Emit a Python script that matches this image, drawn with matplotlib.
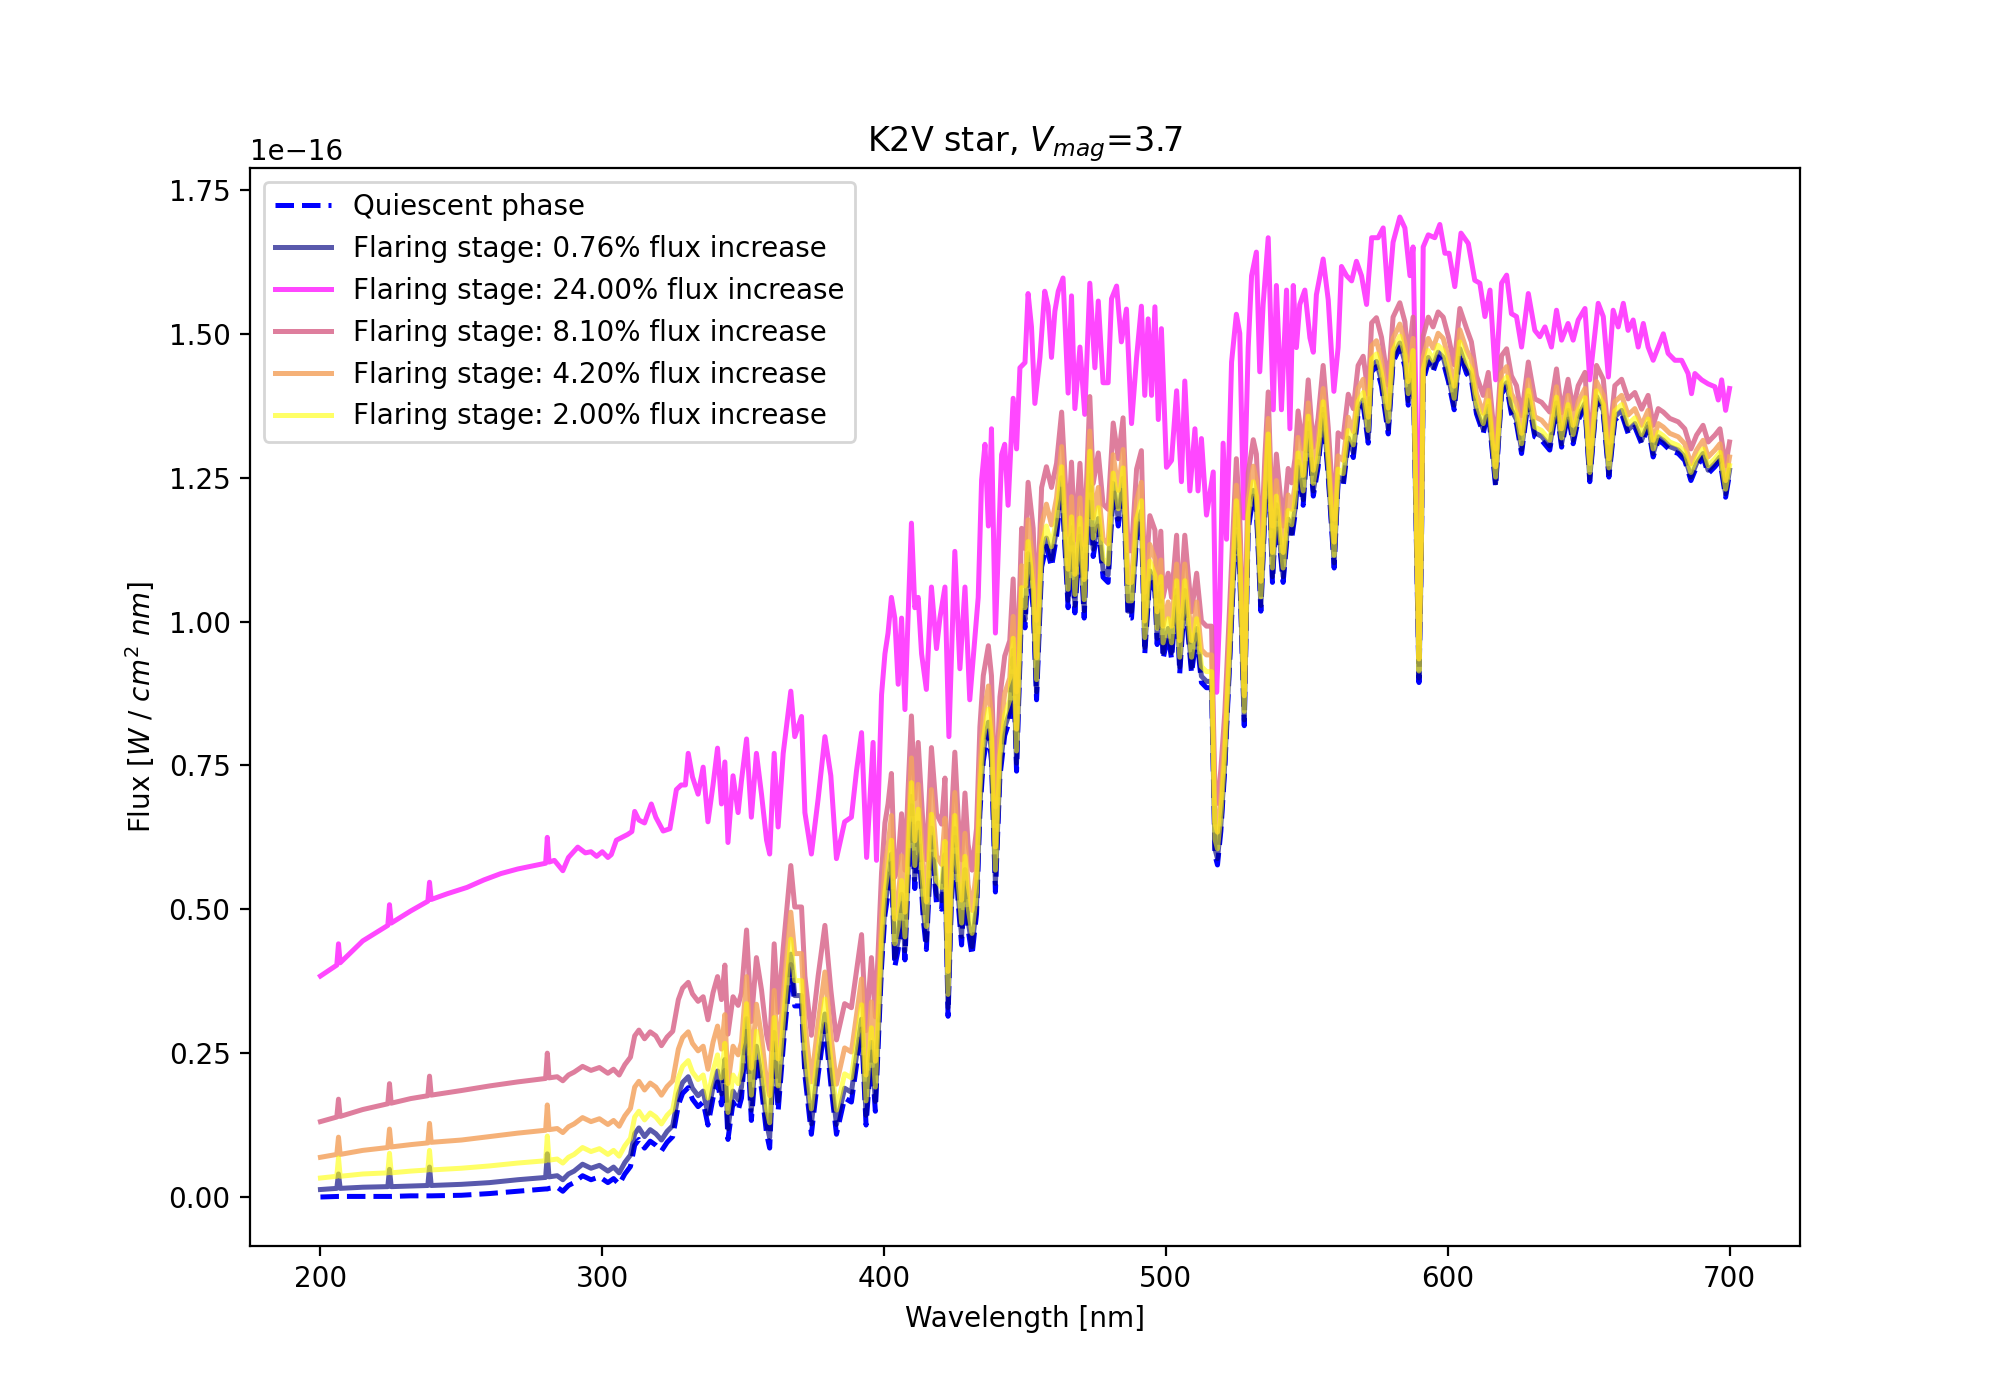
import numpy as np
import matplotlib
matplotlib.use("Agg")
import matplotlib.pyplot as plt

# flux values in units of 1e-16 W / cm^2 nm
SCALE = 1e-16

# wavelength grid shared by the quiescent spectrum and the four weaker flares
wl_q = [200, 205.8, 206.4, 207.0, 215, 223.9, 224.5, 225.1, 232, 238.1, 238.7, 239.3, 250, 260, 270, 279.9, 280.5, 281.1, 284, 286, 288, 290,
        293, 296, 299, 302, 304, 306, 308, 310, 311.5, 313, 315, 317, 319, 321, 323, 325, 327, 328.5, 330.5, 332, 334, 335.8, 337.5, 339.3,
        340.9, 342.3, 343.5, 344.6, 346.4, 348.2, 349.4, 351.2, 352.9, 354.7, 356.5, 358.3, 359.4, 361, 362.4, 364.2, 366.9, 368.3, 370.7, 371.9,
        374.2, 376.6, 379, 381.1, 383.1, 386, 388.4, 390.2, 392, 393.6, 395.5, 396.9, 399.1, 400.3,
        401.4, 402.6, 403.8, 405, 406.2, 407.4, 408.5, 409.7, 410.9, 412.1, 413.9, 415, 416.8, 418.6, 420.4, 421.6,
        422.7, 423.8, 425.1, 426.3, 427.5, 428.7, 429.8, 431.2, 432.8, 434, 435.2, 437, 438.1, 439.5, 441.1, 442.8,
        444.6, 445.8, 447, 448.8, 450, 451.1, 452.9, 454.1, 455.9, 457.6, 459.4, 461.2, 463, 465.3, 466.5, 467.7,
        469.5, 471, 473, 474.2, 476, 477.7, 479.5, 481.3, 483.1, 484.8, 486.6, 487.8, 489.6, 491.3,
        492.5, 494.3, 496.1, 496.9, 498.2, 499, 500.8, 502, 503.8, 504.9, 506.7, 509.1, 510.9, 512.6, 514.4, 516.2,
        517.4, 518.3, 519.5, 520.9, 523.3, 525, 526.2, 527.8, 529.2, 531, 532.1, 533.7, 535.1, 536.3, 537.8, 539.2,
        541.6, 543.4, 544.6, 545.8, 546.9, 548.7, 550.5, 552.3, 554, 555.8, 557.6, 559.7, 561.1, 562.9, 564.7, 566.5,
        568.2, 570, 571.8, 573, 574.7, 576.5, 578.9, 580.6, 583, 584.8, 586, 587.7, 589, 589.8, 590.6, 591.3,
        593.1, 594.8, 596.6, 598.4, 600.2, 602.3, 604.3, 606.7,
        608.4, 610.2, 612.6, 614.4, 617, 619.1, 620.9, 622.6, 624.4, 626.2, 628.6, 630.9, 633.3, 636.2, 638.6, 640.4,
        642.7, 644.5, 646.3, 648.7, 650.4, 652.8, 655.2, 657.2, 659.3, 661.7, 664, 666.4, 668.8, 671.1, 672.9, 674.7,
        676.5, 678.8, 681.8, 684.1, 686.3, 688.3, 690.6, 692.4, 694.8, 696.6, 698.6, 700]

flux_q = [0.000, 0.001, 0.001, 0.001, 0.001, 0.001, 0.001, 0.001, 0.002, 0.002, 0.002, 0.002, 0.003, 0.006, 0.010, 0.014, 0.014, 0.015, 0.017, 0.010, 0.020, 0.025,
          0.037, 0.030, 0.035, 0.025, 0.032, 0.022, 0.040, 0.053, 0.090, 0.100, 0.085, 0.097, 0.090, 0.080, 0.095, 0.105, 0.160, 0.180, 0.190, 0.170, 0.157, 0.165, 0.125, 0.172,
          0.200, 0.160, 0.220, 0.100, 0.165, 0.150, 0.172, 0.292, 0.133, 0.244, 0.188, 0.110, 0.085, 0.268, 0.149, 0.260, 0.404, 0.332, 0.332, 0.212,
          0.109, 0.212, 0.300, 0.196, 0.109, 0.172, 0.165, 0.228, 0.292, 0.125, 0.252, 0.149, 0.400, 0.490,
          0.527, 0.580, 0.400, 0.430, 0.510, 0.412, 0.550, 0.680, 0.536, 0.634, 0.483, 0.430, 0.625, 0.510, 0.500, 0.580,
          0.314, 0.500, 0.625, 0.510, 0.438, 0.554, 0.465, 0.420, 0.492, 0.669, 0.758, 0.810, 0.758, 0.530, 0.731, 0.802,
          0.829, 0.936, 0.740, 1.024, 0.989, 1.104, 1.024, 0.864, 1.095, 1.131, 1.095, 1.148, 1.237, 1.024, 1.150, 1.015,
          1.148, 1.006, 1.264, 1.113, 1.166, 1.077, 1.068, 1.228, 1.166, 1.237, 1.006, 1.006, 1.148, 1.180,
          0.944, 1.077, 1.052, 0.960, 1.050, 0.935, 0.977, 0.935, 1.043, 0.910, 1.043, 0.910, 0.977, 0.894, 0.885, 0.885,
          0.594, 0.577, 0.636, 0.744, 1.002, 1.185, 1.085, 0.819, 1.160, 1.218, 1.193, 1.018, 1.185, 1.301, 1.068, 1.193,
          1.068, 1.168, 1.143, 1.185, 1.268, 1.202, 1.335, 1.218, 1.268, 1.360, 1.252, 1.093, 1.243, 1.235, 1.310, 1.285,
          1.360, 1.376, 1.310, 1.434, 1.443, 1.409, 1.326, 1.451, 1.476, 1.443, 1.376, 1.451, 1.100, 0.894, 1.100, 1.418,
          1.451, 1.434, 1.460, 1.451, 1.418, 1.368, 1.466, 1.431,
          1.420, 1.361, 1.327, 1.367, 1.234, 1.396, 1.408, 1.361, 1.344, 1.292, 1.385, 1.321, 1.315, 1.298, 1.373, 1.303,
          1.361, 1.309, 1.350, 1.373, 1.243, 1.385, 1.361, 1.251, 1.350, 1.361, 1.327, 1.338, 1.309, 1.338, 1.286, 1.315,
          1.309, 1.298, 1.292, 1.280, 1.245, 1.269, 1.286, 1.257, 1.269, 1.280, 1.216, 1.257]

flux_076 = [0.013, 0.015, 0.040, 0.015, 0.017, 0.018, 0.048, 0.018, 0.019, 0.020, 0.052, 0.020, 0.022, 0.025, 0.030, 0.034, 0.075, 0.035, 0.037, 0.030, 0.040, 0.045,
            0.057, 0.050, 0.055, 0.045, 0.052, 0.042, 0.060, 0.073, 0.110, 0.120, 0.105, 0.117, 0.110, 0.099, 0.114, 0.124, 0.179, 0.199, 0.209, 0.189, 0.176, 0.184, 0.144, 0.191,
            0.219, 0.179, 0.239, 0.119, 0.184, 0.169, 0.191, 0.310, 0.151, 0.262, 0.206, 0.128, 0.103, 0.286, 0.167, 0.278, 0.422, 0.350, 0.350, 0.230,
            0.127, 0.230, 0.318, 0.213, 0.126, 0.189, 0.182, 0.245, 0.309, 0.142, 0.269, 0.166, 0.417, 0.506,
            0.543, 0.596, 0.416, 0.446, 0.526, 0.428, 0.566, 0.696, 0.552, 0.650, 0.499, 0.446, 0.641, 0.526, 0.515, 0.595,
            0.329, 0.515, 0.640, 0.525, 0.453, 0.569, 0.480, 0.435, 0.507, 0.684, 0.773, 0.825, 0.773, 0.545, 0.745, 0.816,
            0.843, 0.950, 0.754, 1.038, 1.003, 1.118, 1.038, 0.878, 1.109, 1.145, 1.109, 1.161, 1.250, 1.037, 1.163, 1.028,
            1.161, 1.019, 1.277, 1.126, 1.179, 1.090, 1.081, 1.240, 1.178, 1.249, 1.018, 1.018, 1.160, 1.192,
            0.955, 1.088, 1.063, 0.971, 1.061, 0.946, 0.988, 0.946, 1.054, 0.921, 1.054, 0.921, 0.988, 0.905, 0.896, 0.896,
            0.605, 0.588, 0.647, 0.754, 1.012, 1.195, 1.095, 0.829, 1.170, 1.228, 1.203, 1.028, 1.195, 1.311, 1.078, 1.203,
            1.078, 1.178, 1.153, 1.195, 1.278, 1.212, 1.344, 1.227, 1.277, 1.369, 1.261, 1.102, 1.252, 1.244, 1.319, 1.294,
            1.369, 1.385, 1.319, 1.443, 1.452, 1.418, 1.335, 1.459, 1.484, 1.451, 1.384, 1.459, 1.108, 0.902, 1.108, 1.426,
            1.459, 1.442, 1.468, 1.459, 1.426, 1.376, 1.474, 1.439,
            1.427, 1.368, 1.334, 1.374, 1.241, 1.403, 1.415, 1.368, 1.351, 1.299, 1.392, 1.328, 1.322, 1.305, 1.380, 1.309,
            1.367, 1.315, 1.356, 1.379, 1.249, 1.391, 1.367, 1.257, 1.356, 1.367, 1.333, 1.344, 1.315, 1.344, 1.292, 1.321,
            1.315, 1.304, 1.298, 1.286, 1.251, 1.275, 1.292, 1.263, 1.275, 1.286, 1.222, 1.263]

flux_2 = [0.033, 0.036, 0.068, 0.036, 0.040, 0.042, 0.076, 0.042, 0.045, 0.047, 0.081, 0.047, 0.050, 0.054, 0.059, 0.063, 0.106, 0.064, 0.066, 0.059, 0.069, 0.074,
          0.086, 0.079, 0.084, 0.074, 0.081, 0.071, 0.089, 0.102, 0.139, 0.149, 0.134, 0.146, 0.139, 0.127, 0.142, 0.152, 0.207, 0.227, 0.237, 0.217, 0.204, 0.212, 0.172, 0.219,
          0.247, 0.207, 0.267, 0.147, 0.212, 0.197, 0.219, 0.336, 0.177, 0.288, 0.232, 0.154, 0.129, 0.312, 0.193, 0.304, 0.448, 0.376, 0.376, 0.256,
          0.153, 0.256, 0.344, 0.238, 0.151, 0.214, 0.207, 0.270, 0.334, 0.167, 0.294, 0.191, 0.442, 0.531,
          0.567, 0.620, 0.440, 0.470, 0.550, 0.452, 0.590, 0.720, 0.576, 0.674, 0.523, 0.470, 0.665, 0.550, 0.538, 0.618,
          0.352, 0.538, 0.663, 0.548, 0.476, 0.592, 0.503, 0.458, 0.530, 0.707, 0.796, 0.848, 0.796, 0.568, 0.766, 0.837,
          0.864, 0.971, 0.775, 1.059, 1.024, 1.139, 1.059, 0.899, 1.130, 1.166, 1.130, 1.180, 1.269, 1.056, 1.182, 1.047,
          1.180, 1.038, 1.296, 1.145, 1.198, 1.109, 1.100, 1.258, 1.196, 1.267, 1.036, 1.036, 1.178, 1.210,
          0.972, 1.105, 1.080, 0.988, 1.078, 0.963, 1.005, 0.963, 1.071, 0.938, 1.071, 0.938, 1.005, 0.922, 0.913, 0.913,
          0.622, 0.605, 0.664, 0.769, 1.027, 1.210, 1.110, 0.844, 1.185, 1.243, 1.218, 1.043, 1.210, 1.326, 1.093, 1.218,
          1.093, 1.193, 1.168, 1.210, 1.293, 1.227, 1.357, 1.240, 1.290, 1.382, 1.274, 1.115, 1.265, 1.257, 1.332, 1.307,
          1.382, 1.398, 1.332, 1.456, 1.465, 1.431, 1.348, 1.471, 1.496, 1.463, 1.396, 1.471, 1.120, 0.914, 1.120, 1.438,
          1.471, 1.454, 1.480, 1.471, 1.438, 1.388, 1.486, 1.451,
          1.437, 1.378, 1.344, 1.384, 1.251, 1.413, 1.425, 1.378, 1.361, 1.309, 1.402, 1.338, 1.332, 1.315, 1.390, 1.319,
          1.377, 1.325, 1.366, 1.389, 1.259, 1.401, 1.377, 1.267, 1.366, 1.377, 1.343, 1.354, 1.325, 1.352, 1.300, 1.329,
          1.323, 1.312, 1.306, 1.294, 1.259, 1.283, 1.300, 1.271, 1.283, 1.294, 1.230, 1.271]

flux_42 = [0.069, 0.074, 0.104, 0.074, 0.081, 0.086, 0.118, 0.087, 0.091, 0.094, 0.128, 0.095, 0.099, 0.105, 0.111, 0.116, 0.160, 0.117, 0.119, 0.112, 0.122, 0.127,
           0.138, 0.131, 0.136, 0.126, 0.133, 0.123, 0.141, 0.154, 0.191, 0.201, 0.186, 0.198, 0.191, 0.177, 0.192, 0.202, 0.257, 0.277, 0.287, 0.267, 0.254, 0.262, 0.222, 0.269,
           0.297, 0.257, 0.317, 0.197, 0.262, 0.247, 0.269, 0.383, 0.224, 0.335, 0.279, 0.201, 0.176, 0.359, 0.240, 0.351, 0.495, 0.423, 0.423, 0.303,
           0.200, 0.303, 0.391, 0.283, 0.196, 0.259, 0.252, 0.315, 0.379, 0.212, 0.339, 0.236, 0.487, 0.575,
           0.610, 0.663, 0.483, 0.513, 0.593, 0.495, 0.633, 0.763, 0.619, 0.717, 0.566, 0.513, 0.708, 0.593, 0.578, 0.658,
           0.392, 0.578, 0.703, 0.588, 0.516, 0.632, 0.543, 0.498, 0.570, 0.747, 0.836, 0.888, 0.836, 0.608, 0.804, 0.875,
           0.902, 1.009, 0.813, 1.097, 1.062, 1.177, 1.097, 0.937, 1.168, 1.204, 1.168, 1.215, 1.304, 1.091, 1.217, 1.082,
           1.215, 1.073, 1.331, 1.180, 1.233, 1.144, 1.135, 1.290, 1.228, 1.299, 1.068, 1.068, 1.210, 1.242,
           1.001, 1.134, 1.109, 1.017, 1.107, 0.992, 1.034, 0.992, 1.100, 0.967, 1.100, 0.967, 1.034, 0.951, 0.942, 0.942,
           0.651, 0.634, 0.693, 0.796, 1.054, 1.237, 1.137, 0.871, 1.212, 1.270, 1.245, 1.070, 1.237, 1.353, 1.120, 1.245,
           1.120, 1.220, 1.195, 1.237, 1.320, 1.254, 1.380, 1.263, 1.313, 1.405, 1.297, 1.138, 1.288, 1.280, 1.355, 1.330,
           1.405, 1.421, 1.355, 1.479, 1.488, 1.454, 1.371, 1.492, 1.517, 1.484, 1.417, 1.492, 1.141, 0.935, 1.141, 1.459,
           1.492, 1.475, 1.501, 1.492, 1.459, 1.409, 1.507, 1.472,
           1.455, 1.396, 1.362, 1.402, 1.269, 1.431, 1.443, 1.396, 1.379, 1.327, 1.420, 1.356, 1.350, 1.333, 1.408, 1.335,
           1.393, 1.341, 1.382, 1.405, 1.275, 1.417, 1.393, 1.283, 1.382, 1.393, 1.359, 1.370, 1.341, 1.367, 1.315, 1.344,
           1.338, 1.327, 1.321, 1.309, 1.274, 1.298, 1.315, 1.286, 1.298, 1.309, 1.245, 1.286]

flux_81 = [0.131, 0.139, 0.170, 0.140, 0.152, 0.162, 0.197, 0.163, 0.171, 0.176, 0.210, 0.177, 0.185, 0.193, 0.200, 0.206, 0.250, 0.207, 0.209, 0.202, 0.212, 0.217,
           0.227, 0.220, 0.225, 0.215, 0.222, 0.212, 0.230, 0.243, 0.280, 0.290, 0.275, 0.287, 0.280, 0.263, 0.278, 0.288, 0.343, 0.363, 0.373, 0.353, 0.340, 0.348, 0.308, 0.355,
           0.383, 0.343, 0.403, 0.283, 0.348, 0.333, 0.355, 0.464, 0.305, 0.416, 0.360, 0.282, 0.257, 0.440, 0.321, 0.432, 0.576, 0.504, 0.504, 0.384,
           0.281, 0.384, 0.472, 0.360, 0.273, 0.336, 0.329, 0.392, 0.456, 0.289, 0.416, 0.313, 0.564, 0.650,
           0.683, 0.736, 0.556, 0.586, 0.666, 0.568, 0.706, 0.836, 0.692, 0.790, 0.639, 0.586, 0.781, 0.666, 0.648, 0.728,
           0.462, 0.648, 0.773, 0.658, 0.586, 0.702, 0.613, 0.568, 0.640, 0.817, 0.906, 0.958, 0.906, 0.678, 0.869, 0.940,
           0.967, 1.074, 0.878, 1.162, 1.127, 1.242, 1.162, 1.002, 1.233, 1.269, 1.233, 1.275, 1.364, 1.151, 1.277, 1.142,
           1.275, 1.133, 1.391, 1.240, 1.293, 1.204, 1.195, 1.345, 1.283, 1.354, 1.123, 1.123, 1.265, 1.297,
           1.051, 1.184, 1.159, 1.067, 1.157, 1.042, 1.084, 1.042, 1.150, 1.017, 1.150, 1.017, 1.084, 1.001, 0.992, 0.992,
           0.701, 0.684, 0.743, 0.842, 1.100, 1.283, 1.183, 0.917, 1.258, 1.316, 1.291, 1.116, 1.283, 1.399, 1.166, 1.291,
           1.166, 1.266, 1.241, 1.283, 1.366, 1.300, 1.420, 1.303, 1.353, 1.445, 1.337, 1.178, 1.328, 1.320, 1.395, 1.370,
           1.445, 1.461, 1.395, 1.519, 1.528, 1.494, 1.411, 1.529, 1.554, 1.521, 1.454, 1.529, 1.178, 0.972, 1.178, 1.496,
           1.529, 1.512, 1.538, 1.529, 1.496, 1.446, 1.544, 1.509,
           1.486, 1.427, 1.393, 1.433, 1.300, 1.462, 1.474, 1.427, 1.410, 1.358, 1.451, 1.387, 1.381, 1.364, 1.439, 1.363,
           1.421, 1.369, 1.410, 1.433, 1.303, 1.445, 1.421, 1.311, 1.410, 1.421, 1.387, 1.398, 1.369, 1.393, 1.341, 1.370,
           1.364, 1.353, 1.347, 1.335, 1.300, 1.324, 1.341, 1.312, 1.324, 1.335, 1.271, 1.312]

# the strongest flare was read on its own wavelength grid
wl_24 = [200, 205.8, 206.4, 207.0, 215, 223.9, 224.5, 225.1, 232, 238.1,
         238.7, 239.3, 245, 252, 258, 264, 270, 276, 279.9, 280.5, 281.1, 283, 286,
         288, 291.3, 294, 296, 298, 300, 302, 303.2, 305, 307,
         309, 310.5, 311.5, 313, 315, 317.4, 319, 321.6, 324, 326.3,
         328, 329.5, 330.5, 332, 334, 335.8, 337.5, 339.3, 340.9, 342.3,
         343.5, 344.6, 346.4, 348.2, 349.4, 351.2, 352.9, 354.7, 356.5, 358.3,
         359.4, 361, 362.4, 364.2, 366.9, 368.3, 370.7, 371.9, 374.2, 376.6,
         379, 381.1, 383.1, 386, 388.4, 390.2, 392, 393.8, 396.1, 397.3,
         399.1, 400.3, 401.4, 402.6, 403.8, 405, 406.2, 407.4, 408.5, 409.7,
         410.9, 412.1, 413.3, 415, 416.8, 418.6, 419.8, 421.6, 423, 425.1,
         426.9, 428.7, 430.4, 432.2, 433.4, 434.6, 435.8, 437, 438.1, 439.5,
         441.7, 442.8, 444, 445.8, 447, 448.2, 450, 451.1, 452.3, 453.5,
         455.3, 457, 458.2, 459.4, 460.6, 461.8, 463.5, 465.3, 466.5, 467.7,
         469.5, 471.2, 473, 474.8, 476, 477.7, 479.5, 480.7, 482.5, 484.2,
         486, 487.8, 489.6, 491.3, 492.5, 493.7, 494.9, 496.1, 497.3, 498.4,
         500.2, 502, 503.8, 505.5, 506.7, 508.5, 510.3, 511.4, 512.6, 514.4,
         516.8, 518, 519.1, 520.3, 521.5, 523.3, 525, 526.2, 527.6, 529.2,
         530.4, 532.1, 533.3, 534.5, 536.3, 538.1, 539.2, 541, 542.8, 544,
         545.2, 546.3, 547.5, 549.3, 551.1, 552.3, 553.4, 555.8, 557.6, 559.6,
         561.1, 562.3, 564.1, 565.9, 567.6, 569.4, 571.2, 573, 575.3, 577.1,
         578.9, 580.6, 583, 584.8, 586.6, 587.7, 589.0, 589.8, 590.6, 591.3, 593.1, 595.4,
         597.2, 599, 600.5, 602.5, 604.7, 607.3, 609.6, 611.4, 613.2, 615,
         617, 619.1, 620.9, 622.6, 624.4, 626.2, 628.6, 630.9, 632.7, 634.5,
         636.8, 638.6, 640.4, 642.7, 644.5, 646.3, 648.7, 650.4, 653.4, 655.2,
         657, 658.7, 660.5, 662.3, 664, 665.8, 667.6, 669.4, 671.1, 672.9,
         674.7, 676.5, 678.2, 680.6, 683, 685.3, 686.5, 687.7, 690.1, 692.4,
         694.8, 696, 697.2, 698.6, 700]

flux_24 = [0.384, 0.403, 0.440, 0.407, 0.445, 0.472, 0.508, 0.476, 0.497, 0.514,
           0.547, 0.517, 0.527, 0.538, 0.551, 0.562, 0.570, 0.576, 0.580, 0.625, 0.582, 0.585, 0.567,
           0.590, 0.608, 0.598, 0.600, 0.592, 0.600, 0.590, 0.595, 0.620, 0.625,
           0.630, 0.635, 0.670, 0.655, 0.650, 0.683, 0.660, 0.636, 0.640, 0.708,
           0.716, 0.716, 0.771, 0.730, 0.700, 0.747, 0.652, 0.716, 0.780, 0.683,
           0.756, 0.616, 0.732, 0.668, 0.724, 0.796, 0.660, 0.771, 0.700, 0.620,
           0.596, 0.771, 0.643, 0.771, 0.879, 0.800, 0.835, 0.668, 0.596, 0.692,
           0.800, 0.732, 0.588, 0.652, 0.660, 0.740, 0.807, 0.590, 0.790, 0.585,
           0.873, 0.944, 0.980, 1.042, 1.006, 0.891, 1.006, 0.847, 1.006, 1.171,
           1.024, 1.042, 0.944, 0.882, 1.060, 0.953, 1.006, 1.060, 0.800, 1.122,
           0.918, 1.060, 0.864, 0.970, 1.042, 1.246, 1.308, 1.166, 1.335, 0.980,
           1.290, 1.308, 1.202, 1.388, 1.300, 1.441, 1.450, 1.570, 1.512, 1.379,
           1.459, 1.574, 1.548, 1.459, 1.539, 1.574, 1.597, 1.397, 1.566, 1.370,
           1.477, 1.360, 1.588, 1.441, 1.557, 1.415, 1.415, 1.561, 1.583, 1.486,
           1.543, 1.344, 1.459, 1.548, 1.393, 1.526, 1.393, 1.547, 1.351, 1.509,
           1.268, 1.280, 1.401, 1.243, 1.418, 1.227, 1.335, 1.227, 1.318, 1.185,
           1.260, 0.877, 1.018, 1.310, 1.143, 1.451, 1.534, 1.501, 1.180, 1.476,
           1.601, 1.642, 1.434, 1.551, 1.667, 1.368, 1.584, 1.368, 1.576, 1.335,
           1.584, 1.476, 1.551, 1.576, 1.493, 1.468, 1.568, 1.630, 1.559, 1.400,
           1.476, 1.617, 1.601, 1.592, 1.626, 1.601, 1.551, 1.667, 1.667, 1.684,
           1.559, 1.659, 1.703, 1.684, 1.601, 1.651, 1.300, 0.980, 1.300, 1.651, 1.672, 1.667,
           1.690, 1.640, 1.640, 1.582, 1.675, 1.657, 1.593, 1.588, 1.530, 1.576,
           1.420, 1.588, 1.602, 1.535, 1.530, 1.477, 1.570, 1.506, 1.495, 1.512,
           1.477, 1.541, 1.489, 1.518, 1.489, 1.524, 1.544, 1.420, 1.553, 1.530,
           1.425, 1.541, 1.512, 1.553, 1.506, 1.524, 1.477, 1.518, 1.477, 1.454,
           1.477, 1.500, 1.466, 1.454, 1.454, 1.431, 1.396, 1.431, 1.420, 1.413,
           1.408, 1.385, 1.420, 1.367, 1.405]

labels = ['Quiescent phase',
          'Flaring stage: 0.76% flux increase',
          'Flaring stage: 24.00% flux increase',
          'Flaring stage: 8.10% flux increase',
          'Flaring stage: 4.20% flux increase',
          'Flaring stage: 2.00% flux increase']

fig, ax = plt.subplots(figsize=(10, 7), dpi=200)
lw = 1.8
ax.plot(wl_q, np.array(flux_q) * SCALE, 'b--', lw=lw, label=labels[0])
ax.plot(wl_q, np.array(flux_076) * SCALE, color='navy', alpha=0.65, lw=lw, label=labels[1])
ax.plot(wl_24, np.array(flux_24) * SCALE, color='magenta', alpha=0.72, lw=lw, label=labels[2])
ax.plot(wl_q, np.array(flux_81) * SCALE, color='palevioletred', alpha=0.9, lw=lw, label=labels[3])
ax.plot(wl_q, np.array(flux_42) * SCALE, color='sandybrown', alpha=0.85, lw=lw, label=labels[4])
ax.plot(wl_q, np.array(flux_2) * SCALE, color='yellow', alpha=0.6, lw=lw, label=labels[5])

ax.set_title(r'K2V star, $V_{mag}$=3.7')
ax.set_xlabel('Wavelength [nm]')
ax.set_ylabel(r'Flux [$W$ / $cm^2$ $nm$]')
ax.legend(loc='upper left')

fig.savefig('out.png')
